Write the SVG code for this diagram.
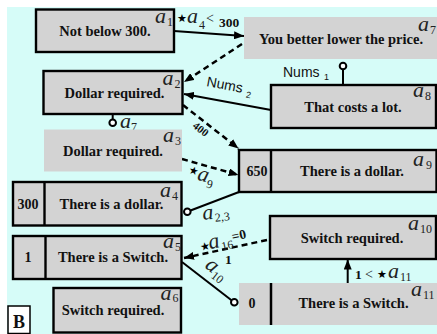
<svg xmlns="http://www.w3.org/2000/svg" width="437" height="334" viewBox="0 0 437 334">
<style>
.bx{fill:#d3d3d3;stroke:#000;stroke-width:2.4}
.nb{fill:#d3d3d3;stroke:none}
.t{font-family:"Liberation Serif",serif;font-weight:bold;font-size:14.5px;fill:#111;text-anchor:middle}
.n{font-family:"Liberation Serif",serif;font-weight:bold;font-size:14px;fill:#111;text-anchor:middle}
.a{font-family:"Liberation Serif",serif;font-style:italic;font-size:22px;fill:#222}
.s{font-family:"Liberation Serif",serif;font-size:12px;fill:#222}
.st{font-family:"DejaVu Sans",sans-serif;font-size:11px;fill:#000}
.lb{font-family:"Liberation Serif",serif;font-weight:bold;font-size:13.5px;fill:#111}
.lt{font-family:"Liberation Serif",serif;font-size:14px;fill:#222}
.ns{font-family:"Liberation Sans",sans-serif;font-size:14px;fill:#111}
.nss{font-family:"Liberation Sans",sans-serif;font-size:9px;fill:#111}
.sol{stroke:#000;stroke-width:2;fill:none}
.das{stroke:#000;stroke-width:2.5;fill:none;stroke-dasharray:6,4}
.cir{fill:#fff;stroke:#000;stroke-width:2}
</style>
<defs>
<marker id="arr" viewBox="0 0 10 8" refX="10" refY="4" markerWidth="10" markerHeight="8" markerUnits="userSpaceOnUse" orient="auto"><path d="M0,0 L10,4 L0,8 z" fill="#000"/></marker>
</defs>
<rect x="0" y="0" width="437" height="334" fill="#fff"/>
<rect x="7" y="7" width="430" height="327" fill="#d6fcf8"/>

<g id="connectors">
<line class="sol" x1="174" y1="31" x2="244" y2="36" marker-end="url(#arr)"/>
<line class="das" x1="242" y1="44" x2="184" y2="82" marker-end="url(#arr)"/>
<line class="sol" x1="343" y1="85" x2="343" y2="69"/>
<circle class="cir" cx="343" cy="66" r="3.3"/>
<line class="sol" x1="271" y1="110" x2="184" y2="94" marker-end="url(#arr)"/>
<line class="das" x1="183" y1="105" x2="238.5" y2="148.5" marker-end="url(#arr)"/>
<line class="das" x1="182" y1="159" x2="238.5" y2="175" marker-end="url(#arr)"/>
<line class="sol" x1="112.7" y1="114" x2="112.7" y2="119.5"/>
<circle class="cir" cx="112.7" cy="122.8" r="3.3"/>
<line class="sol" x1="239" y1="192" x2="190.5" y2="210.5"/>
<circle class="cir" cx="187.3" cy="211.7" r="3.3"/>
<line class="das" x1="267" y1="240" x2="184" y2="258" marker-end="url(#arr)"/>
<line class="sol" x1="182" y1="262" x2="231.5" y2="300.3"/>
<circle class="cir" cx="234.3" cy="302.3" r="3.3"/>
<line class="sol" x1="347.7" y1="283" x2="347.7" y2="259.5" marker-end="url(#arr)"/>
</g>

<g id="labels">
<text x="177" y="22" class="st">★</text>
<text x="187" y="23" class="a">a</text><text x="199" y="29" class="s">4</text>
<text x="206" y="23" class="lt">&lt;</text>
<text x="219" y="26.5" class="lb">300</text>
<text x="283" y="77" class="ns">Nums</text><text x="324" y="80" class="nss">1</text>
<g transform="translate(206,86) rotate(10.5)"><text x="0" y="0" class="ns">Nums</text><text x="41" y="4" class="nss">2</text></g>
<text transform="translate(192,127) rotate(38)" class="lb" style="font-size:11px">400</text>
<g transform="translate(188,173) rotate(15.5)"><text x="0" y="0" class="st">★</text><text x="10" y="4" class="a">a</text><text x="21" y="9" class="s">9</text></g>
<text x="120" y="127.7" class="a">a</text><text x="131" y="131" class="s">7</text>
<g transform="translate(203,220) rotate(-6)"><text x="0" y="0" class="a">a</text><text x="12" y="3" class="s">2,3</text></g>
<g transform="translate(201,251) rotate(-12)"><text x="0" y="0" class="st">★</text><text x="9" y="0" class="a">a</text><text x="21" y="4" class="s">16</text><text x="33" y="-3" class="lb">=0</text></g>
<text x="225" y="264" class="lb">1</text>
<g transform="translate(204,267) rotate(38)"><text x="0" y="0" class="a">a</text><text x="11" y="4" class="s">10</text></g>
<text x="355" y="278.5" class="lb">1</text>
<text x="365" y="279" class="lt">&lt;</text>
<text x="377" y="277.5" class="st">★</text>
<text x="388" y="278" class="a">a</text><text x="400" y="281" class="s">11</text>
</g>

<g id="a1"><rect class="bx" x="36" y="9.5" width="138" height="42.5"/><text x="105" y="36" class="t">Not below 300.</text><text x="155" y="23.3" class="a">a</text><text x="167" y="25.5" class="s">1</text></g>
<g id="a7"><rect class="nb" x="244" y="17" width="193" height="42"/><text x="341" y="44" class="t">You better lower the price.</text><text x="418" y="31" class="a">a</text><text x="430" y="34" class="s">7</text></g>
<g id="a2"><rect class="bx" x="43.5" y="71" width="139" height="43"/><text x="114.5" y="97.5" class="t">Dollar required.</text><text x="162.5" y="85" class="a">a</text><text x="174.5" y="88" class="s">2</text></g>
<g id="a8"><rect class="bx" x="271" y="85" width="165" height="43"/><text x="353" y="112" class="t">That costs a lot.</text><text x="413" y="97" class="a">a</text><text x="425" y="100" class="s">8</text></g>
<g id="a3"><rect class="nb" x="44" y="129.5" width="138" height="42"/><text x="113" y="156" class="t">Dollar required.</text><text x="163" y="141.7" class="a">a</text><text x="175" y="145" class="s">3</text></g>
<g id="a9"><rect class="bx" x="239" y="150" width="197.5" height="42"/><line x1="271" y1="150" x2="271" y2="192" stroke="#000" stroke-width="2.4"/><text x="257" y="176" class="n">650</text><text x="352" y="176" class="t">There is a dollar.</text><text x="413" y="165.7" class="a">a</text><text x="426" y="168.5" class="s">9</text></g>
<g id="a4"><rect class="bx" x="13" y="182" width="168.5" height="43.5"/><line x1="44.5" y1="182" x2="44.5" y2="225.5" stroke="#000" stroke-width="2.4"/><text x="28" y="208.7" class="n">300</text><text x="111.5" y="208.7" class="t">There is a dollar.</text><text x="160" y="196.7" class="a">a</text><text x="172" y="200" class="s">4</text></g>
<g id="a5"><rect class="bx" x="13" y="236" width="168.5" height="43"/><line x1="45.5" y1="236" x2="45.5" y2="279" stroke="#000" stroke-width="2.4"/><text x="28" y="261.7" class="n">1</text><text x="113" y="261.7" class="t">There is a Switch.</text><text x="163" y="248.3" class="a">a</text><text x="175" y="251" class="s">5</text></g>
<g id="a10"><rect class="bx" x="270" y="216" width="166" height="43"/><text x="352" y="242.7" class="t">Switch required.</text><text x="408" y="230" class="a">a</text><text x="420" y="232.5" class="s">10</text></g>
<g id="a11"><rect class="nb" x="239" y="283" width="198" height="42"/><line x1="271" y1="283" x2="271" y2="325" stroke="#000" stroke-width="2.5"/><text x="252" y="308.3" class="n">0</text><text x="353.5" y="308.3" class="t">There is a Switch.</text><text x="411" y="296" class="a">a</text><text x="423" y="298.5" class="s">11</text></g>
<g id="a6"><rect class="bx" x="53.5" y="288" width="127.5" height="44.5"/><text x="113" y="315" class="t">Switch required.</text><text x="160.5" y="300" class="a">a</text><text x="172.5" y="302" class="s">6</text></g>
<g id="B"><rect x="8" y="306" width="22" height="27.5" fill="#fff" stroke="#000" stroke-width="1.5"/><text x="19" y="328" class="t" style="font-size:18px">B</text></g>
</svg>
